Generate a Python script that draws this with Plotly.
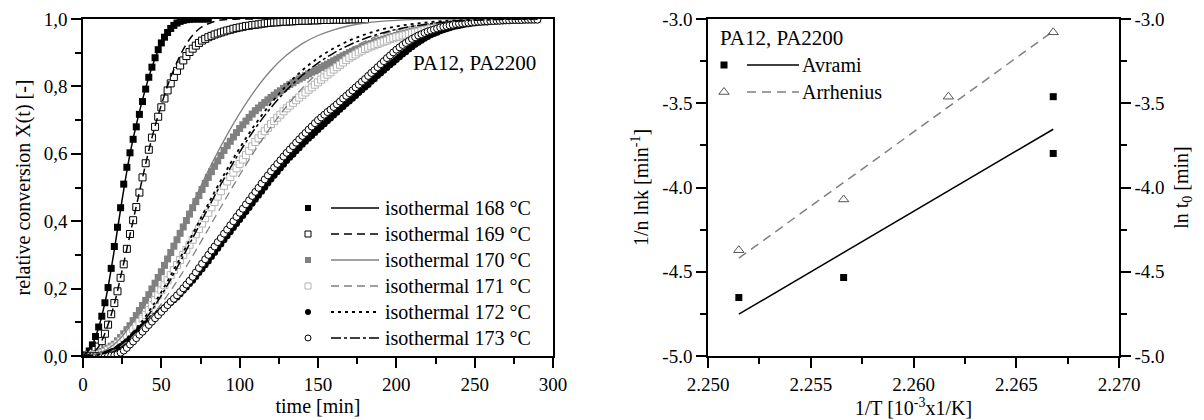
import numpy as np
import plotly.graph_objects as go

# ---------------- isothermal crystallisation curves (left panel) ----------------
series_labels = ["isothermal 168 °C", "isothermal 169 °C", "isothermal 170 °C",
                 "isothermal 171 °C", "isothermal 172 °C", "isothermal 173 °C"]

# measured relative conversion, 2 min sampling
t_168 = np.arange(0, 81, 2)
X_168 = [0.0, 0.003, 0.015, 0.033, 0.058, 0.086, 0.118, 0.158, 0.203, 0.26, 0.325, 0.382, 0.44,
         0.51, 0.56, 0.603, 0.643, 0.68, 0.717, 0.755, 0.792, 0.827, 0.857, 0.885, 0.909, 0.929,
         0.946, 0.96, 0.972, 0.981, 0.988, 0.993, 0.996, 0.998, 0.999, 1.0, 1.0, 1.0, 1.0, 1.0, 1.0]

t_169 = np.arange(0, 181, 2)
X_169 = [0.0, 0.002, 0.005, 0.01, 0.018, 0.028, 0.044, 0.066, 0.093, 0.124, 0.157, 0.192, 0.232,
         0.272, 0.318, 0.362, 0.403, 0.442, 0.485, 0.53, 0.572, 0.612, 0.648, 0.68, 0.71, 0.738,
         0.764, 0.788, 0.809, 0.828, 0.846, 0.862, 0.877, 0.89, 0.902, 0.912, 0.921, 0.929, 0.936,
         0.941, 0.946, 0.95, 0.954, 0.957, 0.96, 0.963, 0.966, 0.968, 0.971, 0.973, 0.975, 0.977,
         0.979, 0.98, 0.982, 0.983, 0.984, 0.986, 0.987, 0.988, 0.989, 0.99, 0.99, 0.991, 0.992,
         0.992, 0.993, 0.993, 0.994, 0.994, 0.995, 0.995, 0.995, 0.996, 0.996, 0.996, 0.997, 0.997,
         0.997, 0.997, 0.998, 0.998, 0.998, 0.998, 0.998, 0.999, 0.999, 0.999, 0.999, 0.999, 0.999]

t_slow = np.arange(0, 291, 2)
X_170 = [0.0, 0.001, 0.003, 0.005, 0.007, 0.01, 0.014, 0.018, 0.023, 0.029, 0.035, 0.045, 0.055,
         0.066, 0.078, 0.09, 0.105, 0.12, 0.135, 0.15, 0.165, 0.182, 0.199, 0.216, 0.233, 0.25,
         0.269, 0.288, 0.307, 0.326, 0.345, 0.364, 0.383, 0.402, 0.421, 0.44, 0.458, 0.476, 0.494,
         0.512, 0.53, 0.547, 0.563, 0.579, 0.595, 0.61, 0.624, 0.637, 0.65, 0.663, 0.675, 0.686,
         0.697, 0.708, 0.718, 0.728, 0.736, 0.744, 0.752, 0.76, 0.767, 0.774, 0.781, 0.787, 0.794,
         0.8, 0.806, 0.811, 0.817, 0.822, 0.827, 0.832, 0.837, 0.842, 0.846, 0.851, 0.856, 0.861,
         0.866, 0.871, 0.876, 0.881, 0.886, 0.891, 0.895, 0.9, 0.904, 0.908, 0.912, 0.916, 0.92,
         0.924, 0.927, 0.931, 0.934, 0.937, 0.94, 0.943, 0.946, 0.948, 0.951, 0.954, 0.956, 0.958,
         0.961, 0.963, 0.965, 0.967, 0.969, 0.971, 0.973, 0.975, 0.976, 0.978, 0.979, 0.981, 0.982,
         0.983, 0.985, 0.986, 0.987, 0.988, 0.989, 0.99, 0.991, 0.992, 0.993, 0.993, 0.994, 0.994,
         0.995, 0.995, 0.996, 0.996, 0.997, 0.997, 0.998, 0.998, 0.998, 0.999, 0.999, 0.999, 0.999,
         1.0, 1.0, 1.0]
X_171 = [0.0, 0.001, 0.002, 0.003, 0.004, 0.005, 0.008, 0.012, 0.017, 0.022, 0.028, 0.036, 0.044,
         0.053, 0.061, 0.07, 0.08, 0.09, 0.101, 0.111, 0.122, 0.137, 0.151, 0.166, 0.18, 0.195,
         0.21, 0.225, 0.24, 0.255, 0.27, 0.285, 0.3, 0.315, 0.33, 0.345, 0.361, 0.377, 0.393, 0.409,
         0.425, 0.441, 0.457, 0.473, 0.489, 0.505, 0.518, 0.531, 0.544, 0.557, 0.57, 0.583, 0.596,
         0.609, 0.622, 0.635, 0.646, 0.656, 0.667, 0.677, 0.688, 0.697, 0.707, 0.716, 0.726, 0.735,
         0.743, 0.751, 0.759, 0.767, 0.775, 0.782, 0.79, 0.797, 0.805, 0.812, 0.82, 0.827, 0.835,
         0.842, 0.85, 0.857, 0.864, 0.871, 0.878, 0.885, 0.89, 0.895, 0.901, 0.906, 0.911, 0.915,
         0.919, 0.922, 0.926, 0.93, 0.933, 0.936, 0.94, 0.943, 0.946, 0.948, 0.951, 0.953, 0.956,
         0.958, 0.96, 0.962, 0.965, 0.967, 0.969, 0.971, 0.973, 0.974, 0.976, 0.978, 0.979, 0.981,
         0.982, 0.984, 0.985, 0.986, 0.987, 0.988, 0.989, 0.99, 0.991, 0.992, 0.992, 0.993, 0.994,
         0.995, 0.995, 0.996, 0.996, 0.997, 0.997, 0.997, 0.998, 0.998, 0.998, 0.998, 0.999, 0.999,
         0.999, 0.999]
X_172 = [0.0, 0.0, 0.0, 0.001, 0.001, 0.002, 0.004, 0.006, 0.009, 0.012, 0.015, 0.021, 0.028,
         0.035, 0.042, 0.05, 0.059, 0.068, 0.077, 0.086, 0.095, 0.103, 0.111, 0.119, 0.127, 0.135,
         0.143, 0.151, 0.159, 0.167, 0.175, 0.185, 0.195, 0.205, 0.215, 0.225, 0.236, 0.248, 0.259,
         0.271, 0.282, 0.295, 0.307, 0.32, 0.332, 0.345, 0.357, 0.369, 0.381, 0.393, 0.405, 0.417,
         0.429, 0.441, 0.453, 0.465, 0.477, 0.489, 0.501, 0.513, 0.525, 0.536, 0.547, 0.558, 0.569,
         0.58, 0.59, 0.599, 0.609, 0.618, 0.628, 0.637, 0.646, 0.654, 0.663, 0.672, 0.681, 0.689,
         0.698, 0.706, 0.715, 0.723, 0.732, 0.74, 0.749, 0.757, 0.765, 0.773, 0.782, 0.79, 0.798,
         0.806, 0.815, 0.823, 0.832, 0.84, 0.848, 0.856, 0.864, 0.872, 0.88, 0.888, 0.896, 0.903,
         0.911, 0.918, 0.925, 0.931, 0.937, 0.943, 0.948, 0.953, 0.957, 0.961, 0.965, 0.968, 0.971,
         0.974, 0.977, 0.979, 0.981, 0.983, 0.985, 0.986, 0.988, 0.989, 0.99, 0.991, 0.992, 0.992,
         0.993, 0.994, 0.994, 0.995, 0.995, 0.996, 0.996, 0.997, 0.997, 0.997, 0.998, 0.998, 0.998,
         0.998, 0.999, 0.999]
X_173 = [0.0, 0.0, 0.0, 0.0, 0.0, 0.0, 0.0, 0.0, 0.0, 0.001, 0.002, 0.005, 0.01, 0.016, 0.024,
         0.034, 0.043, 0.053, 0.063, 0.072, 0.082, 0.092, 0.102, 0.112, 0.121, 0.131, 0.141, 0.151,
         0.161, 0.17, 0.18, 0.19, 0.201, 0.212, 0.223, 0.235, 0.248, 0.261, 0.274, 0.287, 0.3, 0.313,
         0.325, 0.338, 0.35, 0.363, 0.375, 0.388, 0.4, 0.413, 0.425, 0.437, 0.45, 0.462, 0.475,
         0.487, 0.499, 0.512, 0.524, 0.536, 0.548, 0.559, 0.57, 0.581, 0.592, 0.603, 0.613, 0.623,
         0.633, 0.643, 0.653, 0.662, 0.672, 0.681, 0.691, 0.7, 0.708, 0.716, 0.724, 0.731, 0.739,
         0.747, 0.755, 0.764, 0.772, 0.78, 0.788, 0.797, 0.805, 0.814, 0.822, 0.831, 0.84, 0.848,
         0.857, 0.866, 0.875, 0.884, 0.892, 0.901, 0.909, 0.916, 0.923, 0.929, 0.935, 0.941, 0.946,
         0.951, 0.955, 0.959, 0.963, 0.966, 0.969, 0.972, 0.975, 0.977, 0.979, 0.981, 0.983, 0.985,
         0.986, 0.987, 0.988, 0.989, 0.99, 0.991, 0.992, 0.992, 0.993, 0.993, 0.994, 0.994, 0.995,
         0.995, 0.996, 0.996, 0.996, 0.997, 0.997, 0.997, 0.997, 0.998, 0.998, 0.998, 0.998, 0.998]

# Avrami model curves
t_fit168 = np.arange(0, 81, 5)
F_168 = [0.0, 0.025, 0.085, 0.18, 0.315, 0.465, 0.6, 0.705, 0.795, 0.87, 0.928, 0.966, 0.986,
         0.996, 0.999, 1.0, 1.0]
t_fit169 = np.arange(0, 111, 5)
F_169 = [0.0, 0.006, 0.028, 0.08, 0.155, 0.255, 0.36, 0.465, 0.57, 0.665, 0.745, 0.815, 0.872,
         0.918, 0.952, 0.974, 0.986, 0.994, 0.998, 0.999, 1.0, 1.0, 1.0]
t_fit = np.arange(0, 291, 10)
F_170 = [0.0, 0.008, 0.035, 0.088, 0.162, 0.252, 0.35, 0.452, 0.55, 0.64, 0.72, 0.79, 0.848,
         0.893, 0.927, 0.951, 0.968, 0.98, 0.988, 0.993, 0.996, 0.998, 0.999, 1.0, 1.0, 1.0, 1.0,
         1.0, 1.0, 1.0]
F_171 = [0.0, 0.003, 0.018, 0.05, 0.097, 0.155, 0.222, 0.297, 0.377, 0.458, 0.537, 0.612, 0.68,
         0.741, 0.795, 0.84, 0.878, 0.909, 0.934, 0.953, 0.967, 0.978, 0.986, 0.991, 0.995, 0.997,
         0.999, 1.0, 1.0, 1.0]
F_172 = [0.0, 0.005, 0.024, 0.062, 0.118, 0.19, 0.273, 0.362, 0.452, 0.538, 0.617, 0.688, 0.75,
         0.803, 0.848, 0.884, 0.913, 0.936, 0.954, 0.968, 0.978, 0.985, 0.99, 0.994, 0.996, 0.998,
         0.999, 1.0, 1.0, 1.0]
F_173 = [0.0, 0.004, 0.021, 0.057, 0.11, 0.18, 0.262, 0.35, 0.44, 0.526, 0.605, 0.676, 0.737,
         0.789, 0.833, 0.869, 0.899, 0.923, 0.942, 0.957, 0.969, 0.978, 0.985, 0.99, 0.994, 0.996,
         0.998, 0.999, 1.0, 1.0]

# ---------------- kinetic parameters (right panel) ----------------
invT_avrami = [2.2515, 2.2566, 2.2668, 2.2668]
lnk_avrami = [-4.653, -4.534, -3.461, -3.798]
invT_arrh = [2.2515, 2.2566, 2.2617, 2.2668]
lnt0_arrh = [-4.372, -4.071, -3.461, -3.079]
right_labels = ["Avrami", "Arrhenius"]
sample_name = "PA12, PA2200"

left_x_ticks = [0, 50, 100, 150, 200, 250, 300]
left_y_ticks = [0.0, 0.2, 0.4, 0.6, 0.8, 1.0]
left_y_text = ["0,0", "0,2", "0,4", "0,6", "0,8", "1,0"]
right_x_ticks = [2.250, 2.255, 2.260, 2.265, 2.270]
right_x_text = ["2.250", "2.255", "2.260", "2.265", "2.270"]
right_y_ticks = [-5.0, -4.5, -4.0, -3.5, -3.0]
right_y_text = ["-5.0", "-4.5", "-4.0", "-3.5", "-3.0"]

FONT = "Liberation Serif"
GRAY = "#808080"
LGRAY = "#b4b4b4"

marker_styles = [
    dict(symbol="square", size=7, color="black", line=dict(width=0)),
    dict(symbol="square", size=7, color="white", line=dict(color="black", width=1)),
    dict(symbol="square", size=7, color=GRAY, line=dict(width=0)),
    dict(symbol="square", size=7, color="white", line=dict(color=LGRAY, width=1)),
    dict(symbol="circle", size=7, color="black", line=dict(width=0)),
    dict(symbol="circle", size=7, color="white", line=dict(color="black", width=1)),
]
line_styles = [
    dict(color="black", width=1.5, dash="solid"),
    dict(color="black", width=1.5, dash="8px,5px"),
    dict(color=GRAY, width=1.3, dash="solid"),
    dict(color=GRAY, width=1.3, dash="8px,5px"),
    dict(color="black", width=1.8, dash="3px,4px"),
    dict(color="black", width=1.5, dash="10px,3px,3px,3px"),
]

fig = go.Figure()

marker_data = [(t_168, X_168), (t_169, X_169), (t_slow, X_170),
               (t_slow, X_171), (t_slow, X_172), (t_slow, X_173)]
fit_data = [(t_fit168, F_168), (t_fit169, F_169), (t_fit, F_170),
            (t_fit, F_171), (t_fit, F_172), (t_fit, F_173)]

for (tt, xx), ms in zip(marker_data, marker_styles):
    fig.add_trace(go.Scatter(x=tt, y=xx, mode="markers", marker=ms,
                             xaxis="x", yaxis="y", showlegend=False, hoverinfo="skip"))
for (tt, ff), ls in zip(fit_data, line_styles):
    fig.add_trace(go.Scatter(x=tt, y=ff, mode="lines", line=dict(shape="spline", **ls),
                             xaxis="x", yaxis="y", showlegend=False, hoverinfo="skip"))

# right panel: points and linear regressions
ka, kb = np.polyfit(invT_avrami, lnk_avrami, 1)
xa = np.array([min(invT_avrami), max(invT_avrami)])
ra, rb = np.polyfit(invT_arrh, lnt0_arrh, 1)
xr = np.array([min(invT_arrh), max(invT_arrh)])

fig.add_trace(go.Scatter(x=xa, y=ka * xa + kb, mode="lines",
                         line=dict(color="black", width=1.5),
                         xaxis="x2", yaxis="y3", showlegend=False, hoverinfo="skip"))
fig.add_trace(go.Scatter(x=invT_avrami, y=lnk_avrami, mode="markers",
                         marker=dict(symbol="square", size=7, color="black"),
                         xaxis="x2", yaxis="y3", showlegend=False, hoverinfo="skip"))
fig.add_trace(go.Scatter(x=xr, y=ra * xr + rb, mode="lines",
                         line=dict(color=GRAY, width=1.5, dash="9px,6px"),
                         xaxis="x2", yaxis="y4", showlegend=False, hoverinfo="skip"))
tri_style = dict(symbol="triangle-up-open", size=9, color="#555555", line=dict(width=1))
fig.add_trace(go.Scatter(x=invT_arrh, y=lnt0_arrh, mode="markers", marker=tri_style,
                         xaxis="x2", yaxis="y4", showlegend=False, hoverinfo="skip"))

# ---------------- keys (drawn on a full-page pixel overlay) ----------------
annotations = []
key_font = dict(family=FONT, size=20, color="black")
for i, (label, ms, ls) in enumerate(zip(series_labels, marker_styles, line_styles)):
    ky = 208 + i * 26
    key_ms = dict(ms, size=6)
    fig.add_trace(go.Scatter(x=[308], y=[ky], mode="markers", marker=key_ms,
                             xaxis="x3", yaxis="y5", showlegend=False, hoverinfo="skip"))
    fig.add_trace(go.Scatter(x=[331, 379], y=[ky, ky], mode="lines", line=ls,
                             xaxis="x3", yaxis="y5", showlegend=False, hoverinfo="skip"))
    annotations.append(dict(x=383, y=ky, xref="x3", yref="y5", text=label, showarrow=False,
                            xanchor="left", yanchor="middle", font=key_font))

right_keys = [
    (dict(symbol="square", size=7, color="black"), dict(color="black", width=1.5)),
    (tri_style, dict(color=GRAY, width=1.5, dash="9px,6px")),
]
for i, (label, (ms, ls)) in enumerate(zip(right_labels, right_keys)):
    ky = 65 + i * 27
    fig.add_trace(go.Scatter(x=[724], y=[ky], mode="markers", marker=ms,
                             xaxis="x3", yaxis="y5", showlegend=False, hoverinfo="skip"))
    fig.add_trace(go.Scatter(x=[747, 799], y=[ky, ky], mode="lines", line=ls,
                             xaxis="x3", yaxis="y5", showlegend=False, hoverinfo="skip"))
    annotations.append(dict(x=800, y=ky, xref="x3", yref="y5", text=label, showarrow=False,
                            xanchor="left", yanchor="middle", font=key_font))

annotations.append(dict(x=411, y=63, xref="x3", yref="y5", text=sample_name, showarrow=False,
                        xanchor="left", yanchor="middle", font=dict(key_font, size=21)))
annotations.append(dict(x=718, y=38, xref="x3", yref="y5", text=sample_name, showarrow=False,
                        xanchor="left", yanchor="middle", font=dict(key_font, size=21)))

W, H = 1204, 420
ydom = [1 - 356 / H, 1 - 19 / H]
tick_font = dict(family=FONT, size=19, color="black")
title_font = dict(family=FONT, size=20, color="black")

common = dict(showline=True, linecolor="black", linewidth=1.5, ticks="outside", ticklen=10,
              tickwidth=1.5, tickcolor="black", showgrid=False, zeroline=False,
              automargin=False, tickfont=tick_font, title_font=title_font)

fig.update_layout(
    width=W, height=H, margin=dict(l=0, r=0, t=0, b=0),
    paper_bgcolor="white", plot_bgcolor="rgba(0,0,0,0)",
    font=dict(family=FONT, color="black"),
    annotations=annotations,
    xaxis=dict(domain=[83 / W, 553 / W], range=[0, 300], anchor="y", mirror=True,
               tickmode="array", tickvals=left_x_ticks,
               minor=dict(tickmode="array", tickvals=[25, 75, 125, 175, 225, 275],
                          ticks="outside", ticklen=6, tickwidth=1.5, tickcolor="black"),
               title=dict(text="time [min]", standoff=0), **common),
    yaxis=dict(domain=ydom, range=[0, 1], anchor="x", mirror=True,
               tickmode="array", tickvals=left_y_ticks, ticktext=left_y_text,
               minor=dict(tickmode="array", tickvals=[0.1, 0.3, 0.5, 0.7, 0.9],
                          ticks="outside", ticklen=6, tickwidth=1.5, tickcolor="black"),
               title=dict(text="relative conversion X(t) [-]", standoff=8), **common),
    xaxis2=dict(domain=[708 / W, 1119 / W], range=[2.25, 2.27], anchor="y3", mirror=True,
                tickmode="array", tickvals=right_x_ticks, ticktext=right_x_text,
                minor=dict(tickmode="array", tickvals=[2.2525, 2.2575, 2.2625, 2.2675],
                           ticks="outside", ticklen=6, tickwidth=1.5, tickcolor="black"),
                title=dict(text="1/T [10<sup>-3</sup>x1/K]", standoff=0), **common),
    yaxis3=dict(domain=ydom, range=[-5, -3], anchor="x2",
                tickmode="array", tickvals=right_y_ticks, ticktext=right_y_text,
                minor=dict(tickmode="array", tickvals=[-4.75, -4.25, -3.75, -3.25],
                           ticks="outside", ticklen=6, tickwidth=1.5, tickcolor="black"),
                title=dict(text="1/n lnk [min<sup>-1</sup>]", standoff=8), **common),
    yaxis4=dict(domain=ydom, range=[-5, -3], anchor="x2", overlaying="y3", side="right",
                tickmode="array", tickvals=right_y_ticks, ticktext=right_y_text,
                minor=dict(tickmode="array", tickvals=[-4.75, -4.25, -3.75, -3.25],
                           ticks="outside", ticklen=6, tickwidth=1.5, tickcolor="black"),
                title=dict(text="ln t<sub>0</sub> [min]", standoff=10), **common),
    xaxis3=dict(domain=[0, 1], range=[0, W], anchor="y5", visible=False, fixedrange=True),
    yaxis5=dict(domain=[0, 1], range=[H, 0], anchor="x3", visible=False, fixedrange=True),
)

fig.write_html("out.html")
